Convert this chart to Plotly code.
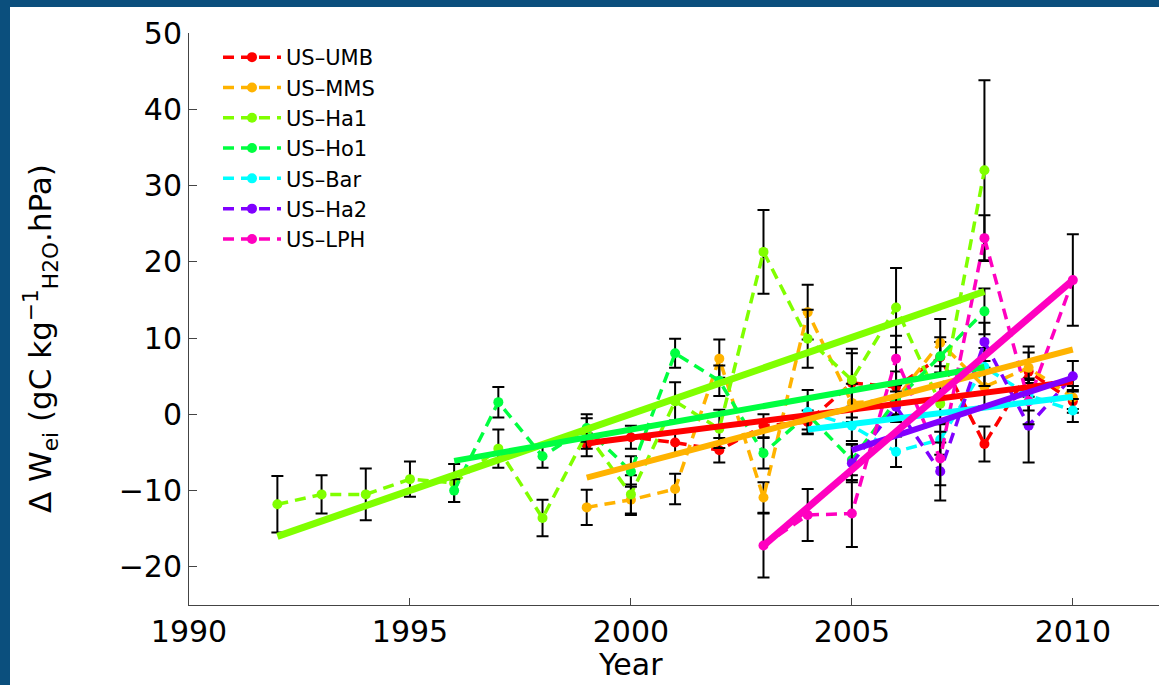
import plotly.graph_objects as go

# ---------------- data ----------------
site_names = ["US–UMB", "US–MMS", "US–Ha1", "US–Ho1", "US–Bar", "US–Ha2", "US–LPH"]
site_colors = ["#ff0000", "#ffb300", "#80ff00", "#00ff40", "#00ffff", "#8000ff", "#ff00c0"]

umb_years = [1999, 2000, 2001, 2002, 2003, 2004, 2005, 2006, 2007, 2008, 2009, 2010]
umb_vals = [-4.0, -3.0, -3.7, -4.7, -1.5, -1.0, 4.1, 3.6, 7.5, -3.9, 5.6, 1.7]
umb_errs = [1.5, 1.5, 1.5, 1.6, 1.5, 1.5, 4.5, 2.0, 2.0, 2.3, 3.3, 1.5]
umb_trend = [-3.8, 4.3]

mms_years = [1999, 2000, 2001, 2002, 2003, 2004, 2005, 2006, 2007, 2008, 2009, 2010]
mms_vals = [-12.2, -11.2, -9.8, 7.3, -10.9, 13.4, 1.5, 2.0, 9.4, 3.6, 6.1, 2.2]
mms_errs = [2.3, 2.0, 2.0, 2.5, 2.0, 3.6, 2.5, 2.0, 3.1, 2.5, 2.0, 1.5]
mms_trend = [-8.3, 8.5]

ha1_years = [1992, 1993, 1994, 1995, 1996, 1997, 1998, 1999, 2000, 2001, 2002,
             2003, 2004, 2005, 2006, 2007, 2008]
ha1_vals = [-11.8, -10.5, -10.5, -8.5, -9.0, -4.5, -13.6, -2.5, -10.5, 1.7, -1.9,
            21.3, 9.9, 4.5, 14.0, 1.4, 32.0]
ha1_errs = [3.7, 2.5, 3.4, 2.3, 2.5, 2.5, 2.4, 2.0, 2.5, 2.5, 2.5,
            5.5, 3.8, 3.5, 5.2, 2.5, 11.8]
ha1_trend = [-16.0, 16.1]

ho1_years = [1996, 1997, 1998, 1999, 2000, 2001, 2002, 2003, 2004, 2005, 2006, 2007, 2008]
ho1_vals = [-10.0, 1.6, -5.5, -1.8, -7.5, 8.0, 4.4, -5.1, 0.0, -6.0, 1.8, 7.6, 13.5]
ho1_errs = [1.5, 2.0, 1.5, 1.8, 2.0, 1.9, 2.0, 2.0, 2.0, 2.0, 2.0, 2.5, 3.0]
ho1_trend = [-6.1, 6.2]

bar_years = [2004, 2005, 2006, 2007, 2008, 2009, 2010]
bar_vals = [0.3, -1.5, -4.9, -3.3, 6.2, 2.5, 0.5]
bar_errs = [2.9, 2.0, 2.0, 2.0, 2.5, 2.0, 1.5]
bar_trend = [-2.0, 2.3]

ha2_years = [2005, 2006, 2007, 2008, 2009, 2010]
ha2_vals = [-6.4, 1.0, -7.5, 9.5, -1.5, 5.0]
ha2_errs = [2.5, 2.0, 3.8, 2.5, 4.8, 2.0]
ha2_trend = [-4.7, 4.8]

lph_years = [2003, 2004, 2005, 2006, 2007, 2008, 2009, 2010]
lph_vals = [-17.2, -13.2, -13.0, 7.3, -5.8, 23.1, 1.7, 17.6]
lph_errs = [4.2, 3.4, 4.4, 3.0, 3.5, 3.0, 3.0, 6.0]
lph_trend = [-17.2, 17.6]

x_ticks = [1990, 1995, 2000, 2005, 2010]
y_ticks = [-20, -10, 0, 10, 20, 30, 40, 50]

series = [
    (umb_years, umb_vals, umb_errs, umb_trend),
    (mms_years, mms_vals, mms_errs, mms_trend),
    (ha1_years, ha1_vals, ha1_errs, ha1_trend),
    (ho1_years, ho1_vals, ho1_errs, ho1_trend),
    (bar_years, bar_vals, bar_errs, bar_trend),
    (ha2_years, ha2_vals, ha2_errs, ha2_trend),
    (lph_years, lph_vals, lph_errs, lph_trend),
]
trend_widths = [6, 6, 7, 6, 6, 6, 7]

FONT = "DejaVu Sans, Liberation Sans, Arial, sans-serif"

fig = go.Figure()

for (yrs, vals, errs, tr), name, col in zip(series, site_names, site_colors):
    fig.add_trace(go.Scatter(
        x=yrs, y=vals, name=name, mode="lines+markers",
        line=dict(color=col, width=3.5, dash="11px,7px"),
        marker=dict(color=col, size=10),
        error_y=dict(type="data", array=errs, visible=True,
                     color="black", thickness=2, width=6),
    ))

for (yrs, vals, errs, tr), name, col, w in zip(series, site_names, site_colors, trend_widths):
    fig.add_trace(go.Scatter(
        x=[yrs[0], yrs[-1]], y=tr, mode="lines", showlegend=False,
        line=dict(color=col, width=w), hoverinfo="skip",
    ))

# blue frame strips (left and top)
frame_col = "#0b4f7d"
W, H = 1159, 685
L, R, T, B = 189, 0, 33, 80
pw, ph = W - L - R, H - T - B
def px_x(p):
    return (p - L) / pw
def px_y(p):
    return (H - B - p) / ph

fig.add_shape(type="rect", xref="paper", yref="paper",
              x0=px_x(-2), x1=px_x(10), y0=px_y(H + 5), y1=px_y(-5),
              fillcolor=frame_col, line=dict(width=0), layer="above")
fig.add_shape(type="rect", xref="paper", yref="paper",
              x0=px_x(-2), x1=px_x(W + 5), y0=px_y(7), y1=px_y(-5),
              fillcolor=frame_col, line=dict(width=0), layer="above")

fig.add_annotation(text="Year", xref="x", yref="paper", x=2000, y=px_y(664),
                   xanchor="center", yanchor="middle", showarrow=False,
                   font=dict(family=FONT, size=30, color="black"))
fig.add_annotation(text="Δ W<sub>ei</sub> (gC kg<sup>−1</sup><sub>H2O</sub>.hPa)",
                   xref="paper", yref="paper", x=px_x(40), y=px_y(339),
                   xanchor="center", yanchor="middle", textangle=-90, showarrow=False,
                   font=dict(family=FONT, size=31, color="black"))

fig.update_layout(
    width=W, height=H,
    margin=dict(l=L, r=R, t=T, b=B, pad=0, autoexpand=False),
    paper_bgcolor="white", plot_bgcolor="white",
    font=dict(family=FONT, color="black"),
    showlegend=True,
    legend=dict(x=px_x(218), y=px_y(37), xanchor="left", yanchor="top",
                bgcolor="rgba(0,0,0,0)", font=dict(family=FONT, size=21),
                tracegroupgap=0, itemwidth=58),
    xaxis=dict(range=[1990, 2011.95], tickvals=x_ticks, ticks="inside", ticklen=7,
               tickcolor="#444", showline=True, linecolor="#444", linewidth=1,
               showgrid=False, zeroline=False, mirror=False, automargin=False,
               tickfont=dict(family=FONT, size=30, color="black")),
    yaxis=dict(range=[-25, 50], tickvals=y_ticks, ticks="inside", ticklen=8,
               tickcolor="#444", showline=True, linecolor="#444", linewidth=1,
               showgrid=False, zeroline=False, mirror=False, automargin=False,
               tickfont=dict(family=FONT, size=30, color="black")),
)

fig.write_html(
    "out.html",
    config={"displayModeBar": False},
    post_script="document.body.style.margin='0px';document.body.style.overflow='hidden';",
)
